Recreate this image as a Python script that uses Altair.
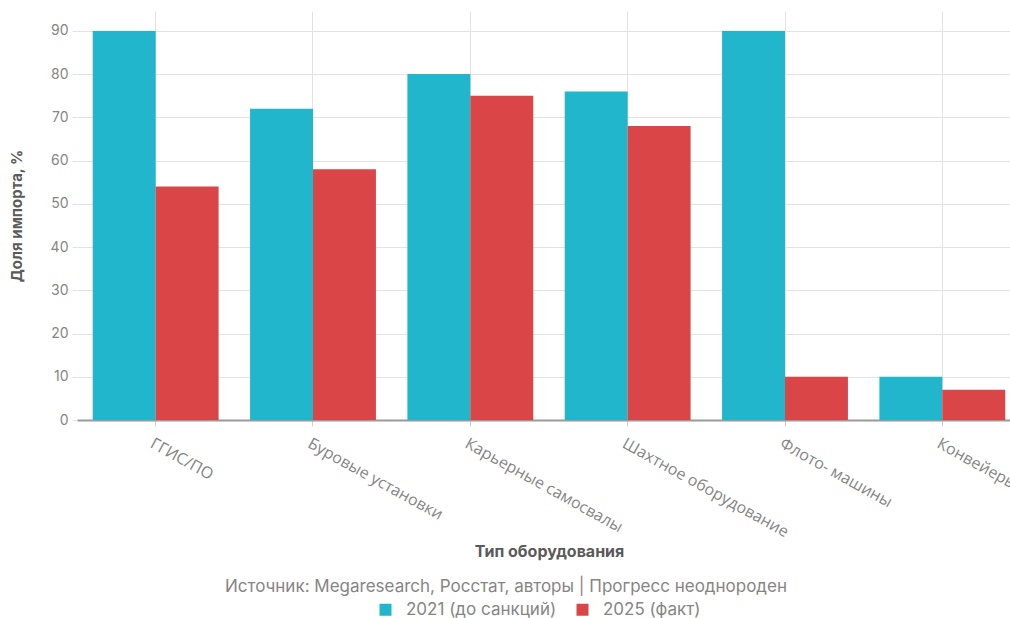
import altair as alt
import pandas as pd

# Import share by equipment type, before sanctions vs. actual
categories = [
    "ГГИС/ПО",
    "Буровые установки",
    "Карьерные самосвалы",
    "Шахтное оборудование",
    "Флото- машины",
    "Конвейеры",
]
series = ["2021 (до санкций)", "2025 (факт)"]
values_2021 = [90, 72, 80, 76, 90, 10]
values_2025 = [54, 58, 75, 68, 10, 7]
y_ticks = [0, 10, 20, 30, 40, 50, 60, 70, 80, 90]
colors = ["#21B6CB", "#DA4547"]
source_note = "Источник: Megaresearch, Росстат, авторы | Прогресс неоднороден"

df = pd.DataFrame({
    "Тип": categories * 2,
    "Серия": [series[0]] * len(categories) + [series[1]] * len(categories),
    "Доля": values_2021 + values_2025,
})
note_df = pd.DataFrame({"note": [source_note]})

PLOT_W = 933
PLOT_H = 409
BAND_SPAN = 944  # the band scale runs a little past the visible plot edge

LABEL_GRAY = "#858585"
TITLE_GRAY = "#5a5a5a"

bars = alt.Chart(df).mark_bar().encode(
    x=alt.X(
        "Тип:N",
        sort=categories,
        scale=alt.Scale(range=[0, BAND_SPAN], paddingInner=0.2, paddingOuter=0.1),
        axis=alt.Axis(
            title="Тип оборудования",
            labelAngle=29,
            labelAlign="left",
            labelBaseline="top",
            labelPadding=9,
            labelFont="Open Sans",
            labelFontSize=16,
            labelColor=LABEL_GRAY,
            labelLimit=400,
            tickColor="#d0d0d0",
            tickSize=6,
            domainColor="#9a9a9a",
            domainWidth=2,
            grid=True,
            gridColor="#e2e2e2",
            bandPosition=0.5,
            titleFont="Inter",
            titleFontSize=16,
            titleFontWeight="bold",
            titleColor=TITLE_GRAY,
            titleBaseline="middle",
            titleY=131,
            labelOverlap=False,
        ),
    ),
    xOffset=alt.XOffset("Серия:N", sort=series, scale=alt.Scale(paddingInner=0)),
    y=alt.Y(
        "Доля:Q",
        scale=alt.Scale(domain=[0, 94.6], nice=False),
        axis=alt.Axis(
            title="Доля импорта, %",
            values=y_ticks,
            labelFont="Inter",
            labelFontSize=14,
            labelColor=LABEL_GRAY,
            labelPadding=4,
            tickColor="#e2e2e2",
            tickSize=5,
            domain=False,
            grid=True,
            gridColor="#e2e2e2",
            titleFont="Inter",
            titleFontSize=15,
            titleFontWeight="bold",
            titleColor=TITLE_GRAY,
            titleBaseline="middle",
            titleX=-61,
        ),
    ),
    color=alt.Color(
        "Серия:N",
        sort=series,
        scale=alt.Scale(domain=series, range=colors),
        legend=alt.Legend(
            title=None,
            orient="none",
            direction="horizontal",
            legendX=300,
            legendY=590,
            symbolType="square",
            symbolSize=144,
            symbolStrokeWidth=0,
            labelFont="Inter",
            labelFontSize=17,
            labelColor=LABEL_GRAY,
            labelOffset=12,
            columnPadding=17,
        ),
    ),
)

note = alt.Chart(note_df).mark_text(
    font="Inter", fontSize=17, color=LABEL_GRAY, align="center", baseline="middle"
).encode(
    x=alt.value(429),
    y=alt.value(576),
    text="note:N",
)

chart = alt.layer(bars, note).properties(
    width=PLOT_W,
    height=PLOT_H,
    autosize=alt.AutoSizeParams(type="none"),
    padding={"left": 77, "top": 11, "right": 0, "bottom": 198},
    background="white",
).configure_view(stroke=None)

chart.save("out.html", embed_options={"renderer": "svg", "actions": False})
